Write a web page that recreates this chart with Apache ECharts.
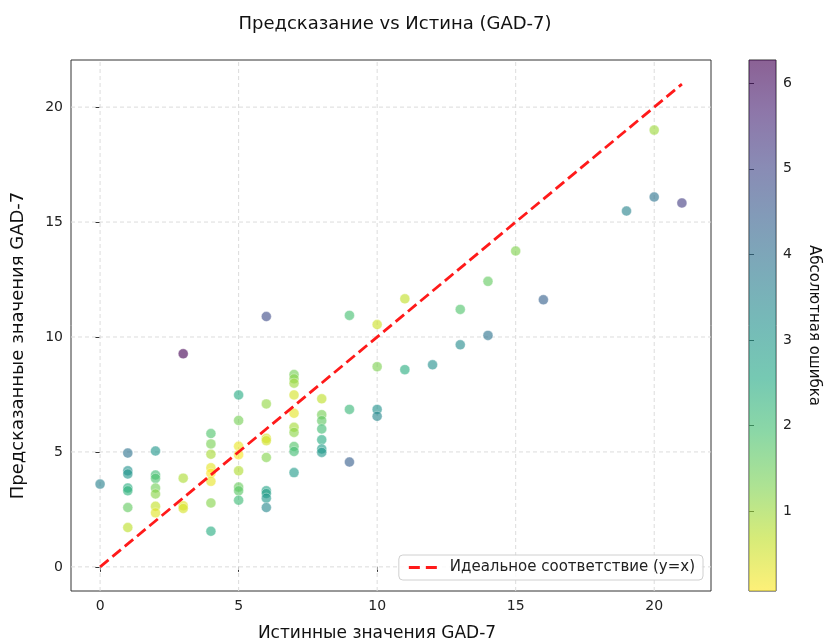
<!DOCTYPE html>
<html>
<head>
<meta charset="utf-8">
<script src="https://cdn.jsdelivr.net/npm/echarts@6/dist/echarts.min.js"></script>
<style>
  html, body { margin: 0; background: #fff; }
  #chart { width: 824px; height: 641px; }
</style>
</head>
<body>
<div id="chart"></div>
<script>
  // истинные значения и предсказания (по одной строке на истинный балл)
  var trueScores = [
    0,
    1, 1, 1, 1, 1, 1, 1,
    2, 2, 2, 2, 2, 2, 2,
    3, 3, 3, 3,
    4, 4, 4, 4, 4, 4, 4, 4,
    5, 5, 5, 5, 5, 5, 5, 5,
    6, 6, 6, 6, 6, 6, 6, 6, 6,
    7, 7, 7, 7, 7, 7, 7, 7, 7, 7,
    8, 8, 8, 8, 8, 8, 8,
    9, 9, 9,
    10, 10, 10, 10,
    11, 11,
    12,
    13, 13,
    14, 14,
    15,
    16,
    19,
    20, 20,
    21,
  ]
  var predScores = [
    3.60,
    4.95, 4.18, 4.04, 3.43, 3.31, 2.58, 1.71,
    5.04, 4.00, 3.85, 3.43, 3.17, 2.64, 2.35,
    9.27, 3.86, 2.66, 2.54,
    5.80, 5.35, 4.90, 4.31, 4.07, 3.72, 2.78, 1.55,
    7.48, 6.37, 5.25, 4.88, 4.18, 3.47, 3.31, 2.90,
    10.89, 7.09, 5.59, 5.49, 4.76, 3.31, 3.19, 2.99, 2.58,
    8.37, 8.18, 7.99, 7.48, 6.68, 6.07, 5.85, 5.24, 5.02, 4.10,
    7.31, 6.62, 6.36, 6.00, 5.53, 5.13, 4.98,
    10.94, 6.85, 4.56,
    10.54, 8.71, 6.85, 6.55,
    11.66, 8.58,
    8.79,
    11.20, 9.66,
    12.42, 10.07,
    13.74,
    11.62,
    15.48,
    19.00, 16.09,
    15.83,
  ]
  var idealLine = [0, 21]
  var axisTicks = [0, 5, 10, 15, 20]
  var errorTicks = [1, 2, 3, 4, 5, 6]

  // viridis_r
  var viridisR = ['#fde725', '#bddf26', '#7ad151', '#44bf70', '#22a884', '#21918c',
    '#2a788e', '#355f8d', '#414487', '#482475', '#440154']

  var errors = trueScores.map(function (t, i) { return Math.abs(predScores[i] - t) })
  var errMin = Math.min.apply(null, errors)
  var errMax = Math.max.apply(null, errors)
  var points = trueScores.map(function (t, i) { return [t, predScores[i], errors[i]] })

  var font = 'DejaVu Sans'
  var axisColor = '#222'
  var lineName = 'Идеальное соответствие (y=x)'

  var chart = echarts.init(document.getElementById('chart'))
  chart.setOption({
    backgroundColor: '#fff',
    animation: false,
    textStyle: { fontFamily: font },
    title: {
      text: 'Предсказание vs Истина (GAD-7)',
      left: 390,
      top: 10,
      textAlign: 'center',
      textStyle: { fontFamily: font, fontSize: 18, fontWeight: 'normal', color: '#111' },
    },
    legend: {
      data: [{ name: lineName, icon: 'path://M0,0 L11,0 L11,3 L0,3 Z M17,0 L28,0 L28,3 L17,3 Z' }],
      right: 121,
      top: 555,
      backgroundColor: 'rgba(255,255,255,0.85)',
      borderColor: '#d0d0d0',
      borderWidth: 1,
      borderRadius: 4,
      padding: [5, 8, 5, 10],
      itemWidth: 28,
      itemHeight: 3,
      itemGap: 10,
      textStyle: { fontFamily: font, fontSize: 15, color: '#222', padding: [0, 0, 0, 8] },
    },
    grid: [
      { left: 71, top: 60, width: 640, height: 531, outerBoundsMode: 'none', containLabel: false, show: true, borderColor: '#333', borderWidth: 1, backgroundColor: 'transparent' },
      { left: 749, top: 60, width: 27, height: 531, outerBoundsMode: 'none', containLabel: false, show: true, borderColor: '#333', borderWidth: 1, backgroundColor: 'transparent' },
    ],
    xAxis: [
      {
        gridIndex: 0,
        type: 'value',
        min: -1.05,
        max: 22.05,
        name: 'Истинные значения GAD-7',
        nameLocation: 'middle',
        nameGap: 34,
        nameTextStyle: { fontFamily: font, fontSize: 17, color: '#111', padding: [0, 28, 0, 0] },
        axisLine: { show: false },
        axisTick: { show: true, customValues: axisTicks, length: 5, lineStyle: { color: '#333' } },
        axisLabel: { customValues: axisTicks, fontSize: 14, color: axisColor, margin: 8 },
        splitLine: { show: false },
      },
      { gridIndex: 1, type: 'value', min: 0, max: 1, show: false },
    ],
    yAxis: [
      {
        gridIndex: 0,
        type: 'value',
        min: -1.05,
        max: 22.05,
        name: 'Предсказанные значения GAD-7',
        nameLocation: 'middle',
        nameGap: 44,
        nameTextStyle: { fontFamily: font, fontSize: 18, color: '#111', padding: [0, 40, 0, 0] },
        axisLine: { show: false },
        axisTick: { show: true, customValues: axisTicks, length: 5, lineStyle: { color: '#333' } },
        axisLabel: { customValues: axisTicks, fontSize: 14, color: axisColor, margin: 8 },
        splitLine: { show: false },
      },
      {
        gridIndex: 1,
        type: 'value',
        position: 'right',
        min: errMin,
        max: errMax,
        name: 'Абсолютная ошибка',
        nameLocation: 'middle',
        nameRotate: -90,
        nameGap: 30,
        nameTextStyle: { fontFamily: font, fontSize: 15, color: '#111' },
        axisLine: { show: false },
        axisTick: { show: true, customValues: errorTicks, length: 5, lineStyle: { color: '#333' } },
        axisLabel: { customValues: errorTicks, fontSize: 14, color: axisColor, margin: 7 },
        splitLine: { show: false },
      },
    ],
    visualMap: {
      type: 'continuous',
      show: false,
      seriesIndex: 0,
      dimension: 2,
      min: errMin,
      max: errMax,
      inRange: { color: viridisR },
    },
    series: [
      {
        name: 'points',
        type: 'scatter',
        xAxisIndex: 0,
        yAxisIndex: 0,
        data: points,
        symbolSize: 10,
        itemStyle: { opacity: 0.62, borderColor: '#fff', borderWidth: 0.6 },
        z: 2,
      },
      {
        name: lineName,
        type: 'line',
        xAxisIndex: 0,
        yAxisIndex: 0,
        data: [[idealLine[0], idealLine[0]], [idealLine[1], idealLine[1]]],
        symbol: 'none',
        lineStyle: { color: '#ff1a1a', width: 2.8, type: [11, 5] },
        itemStyle: { color: '#ff1a1a' },
        z: 3,
      },
      // сетка пунктиром
      {
        type: 'custom',
        xAxisIndex: 0,
        yAxisIndex: 0,
        data: axisTicks.map(function (v) { return [v] }),
        silent: true,
        z: 1,
        renderItem: function (params, api) {
          var v = api.value(0)
          var a = api.coord([v, -1.05])
          var b = api.coord([v, 22.05])
          var c = api.coord([-1.05, v])
          var d = api.coord([22.05, v])
          var st = { stroke: '#dcdcdc', lineWidth: 1, lineDash: [4, 3] }
          return {
            type: 'group',
            children: [
              { type: 'line', shape: { x1: a[0], y1: a[1], x2: b[0], y2: b[1] }, style: st },
              { type: 'line', shape: { x1: c[0], y1: c[1], x2: d[0], y2: d[1] }, style: st },
            ],
          }
        },
      },
      // цветовая шкала
      {
        type: 'custom',
        xAxisIndex: 1,
        yAxisIndex: 1,
        data: [[0, errMin, errMax]],
        silent: true,
        renderItem: function (params, api) {
          var p0 = api.coord([0, api.value(1)])
          var p1 = api.coord([1, api.value(2)])
          var stops = viridisR.map(function (c, i) {
            return { offset: i / (viridisR.length - 1), color: c }
          })
          return {
            type: 'rect',
            shape: { x: p0[0], y: p1[1], width: p1[0] - p0[0], height: p0[1] - p1[1] },
            style: { fill: new echarts.graphic.LinearGradient(0, 1, 0, 0, stops), opacity: 0.62 },
          }
        },
      },
    ],
  })
</script>
</body>
</html>
